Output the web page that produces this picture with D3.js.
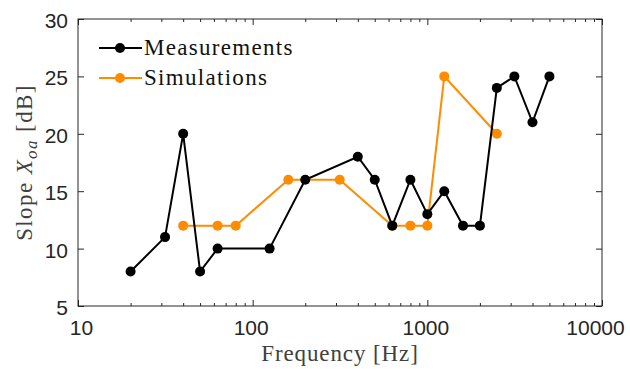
<!DOCTYPE html>
<html>
<head>
<meta charset="utf-8">
<script src="https://cdn.jsdelivr.net/npm/d3@7"></script>
<style>
  body { margin: 0; background: #fff; }
  svg { display: block; }
</style>
</head>
<body>
<div id="chart"></div>
<script>
// data
var measFreq = [20, 31.5, 40, 50, 63, 125, 200, 400, 500, 630, 800, 1000, 1250, 1600, 2000, 2500, 3150, 4000, 5000];
var measSlope = [8, 11, 20, 8, 10, 10, 16, 18, 16, 12, 16, 13, 15, 12, 12, 24, 25, 21, 25];
var simFreq = [40, 63, 80, 160, 315, 630, 800, 1000, 1250, 2500];
var simSlope = [12, 12, 12, 16, 16, 12, 12, 12, 25, 20];
var xTicks = [10, 100, 1000, 10000];
var yTicks = [5, 10, 15, 20, 25, 30];

var width = 630, height = 369;
var margin = { top: 19, right: 28, bottom: 63, left: 78 };
var w = width - margin.left - margin.right;
var h = height - margin.top - margin.bottom;

var axisColor = "#262626";
var orange = "#ff8c00";
var serif = "Liberation Serif, Times New Roman, serif";

var svg = d3.select("#chart")
  .append("svg")
  .attr("width", width)
  .attr("height", height);

var g = svg.append("g")
  .attr("transform", "translate(" + margin.left + "," + margin.top + ")");

//scales
var x = d3.scaleLog().domain([10, 10000]).range([0, w]);
var y = d3.scaleLinear().domain([5, 30]).range([h, 0]);

// minor ticks for the log axis
var minor = [];
[10, 100, 1000].forEach(function (d) {
  for (var k = 2; k <= 9; k++) minor.push(d * k);
});

function xAxisG(axis, ty) {
  var a = g.append("g").attr("transform", "translate(0," + ty + ")").call(axis);
  a.select(".domain").remove();
  a.selectAll("line").attr("stroke", axisColor);
  return a;
}

// bottom: labels + major ticks (inward)
var bx = xAxisG(d3.axisBottom(x).tickValues(xTicks).tickFormat(d3.format("d")).tickSizeInner(-6).tickPadding(14), h);
bx.selectAll("text")
  .attr("fill", axisColor)
  .attr("dx", function (d) { return d === 10000 ? -7 : (d === 10 ? 3 : -2); })
  .style("font-family", "Liberation Sans, Arial, sans-serif")
  .style("font-size", "21px");
xAxisG(d3.axisBottom(x).tickValues(minor).tickFormat("").tickSizeInner(-3), h);
// top mirrored ticks
xAxisG(d3.axisTop(x).tickValues(xTicks).tickFormat("").tickSizeInner(-6), 0);
xAxisG(d3.axisTop(x).tickValues(minor).tickFormat("").tickSizeInner(-3), 0);

// left y axis
var ly = g.append("g").call(d3.axisLeft(y).tickValues(yTicks).tickSizeInner(-6).tickPadding(10));
ly.select(".domain").remove();
ly.selectAll("line").attr("stroke", axisColor);
ly.selectAll("text")
  .attr("fill", axisColor)
  .attr("dy", "0.4em")
  .style("font-family", "Liberation Sans, Arial, sans-serif")
  .style("font-size", "21px");

// right y axis ticks
var ry = g.append("g").attr("transform", "translate(" + w + ",0)")
  .call(d3.axisRight(y).tickValues(yTicks).tickFormat("").tickSizeInner(-6));
ry.select(".domain").remove();
ry.selectAll("line").attr("stroke", axisColor);

// box
g.append("rect")
  .attr("x", 0).attr("y", 0)
  .attr("width", w).attr("height", h)
  .attr("fill", "none")
  .attr("stroke", axisColor)
  .attr("stroke-width", 1);

function series(fx, fy, color) {
  var pts = fx.map(function (d, i) { return [d, fy[i]]; });
  var line = d3.line()
    .x(function (d) { return x(d[0]); })
    .y(function (d) { return y(d[1]); });
  g.append("path")
    .datum(pts)
    .attr("d", line)
    .attr("fill", "none")
    .attr("stroke", color)
    .attr("stroke-width", 2);
  g.append("g").selectAll("circle")
    .data(pts)
    .enter()
    .append("circle")
    .attr("cx", function (d) { return x(d[0]); })
    .attr("cy", function (d) { return y(d[1]); })
    .attr("r", 5)
    .attr("fill", color);
}

series(simFreq, simSlope, orange);
series(measFreq, measSlope, "#000");

// legend
var legend = [["Measurements", "#000"], ["Simulations", orange]];
var lg = svg.append("g");
legend.forEach(function (d, i) {
  var ly0 = 48 + i * 30;
  lg.append("line")
    .attr("x1", 99).attr("x2", 142)
    .attr("y1", ly0).attr("y2", ly0)
    .attr("stroke", d[1]).attr("stroke-width", 2);
  lg.append("circle")
    .attr("cx", 120).attr("cy", ly0).attr("r", 5)
    .attr("fill", d[1]);
  lg.append("text")
    .attr("x", 144).attr("y", ly0 + 7)
    .style("font-family", serif)
    .style("font-size", "23px")
    .style("letter-spacing", "1.3px")
    .attr("fill", "#111")
    .text(d[0]);
});

// axis labels
svg.append("text")
  .attr("x", margin.left + w / 2)
  .attr("y", 361)
  .attr("text-anchor", "middle")
  .style("font-family", serif)
  .style("font-size", "23px")
  .style("letter-spacing", "0.9px")
  .attr("fill", "#404040")
  .text("Frequency [Hz]");

var yl = svg.append("text")
  .attr("transform", "translate(32," + (margin.top + h / 2) + ") rotate(-90)")
  .attr("text-anchor", "middle")
  .style("font-family", serif)
  .style("font-size", "23px")
  .style("letter-spacing", "1.4px")
  .attr("fill", "#404040");
yl.append("tspan").text("Slope ");
yl.append("tspan").style("font-style", "italic").text("X");
yl.append("tspan").style("font-style", "italic").style("font-size", "17px").attr("dy", 5).text("oa");
yl.append("tspan").attr("dy", -5).text(" [dB]");
</script>
</body>
</html>
